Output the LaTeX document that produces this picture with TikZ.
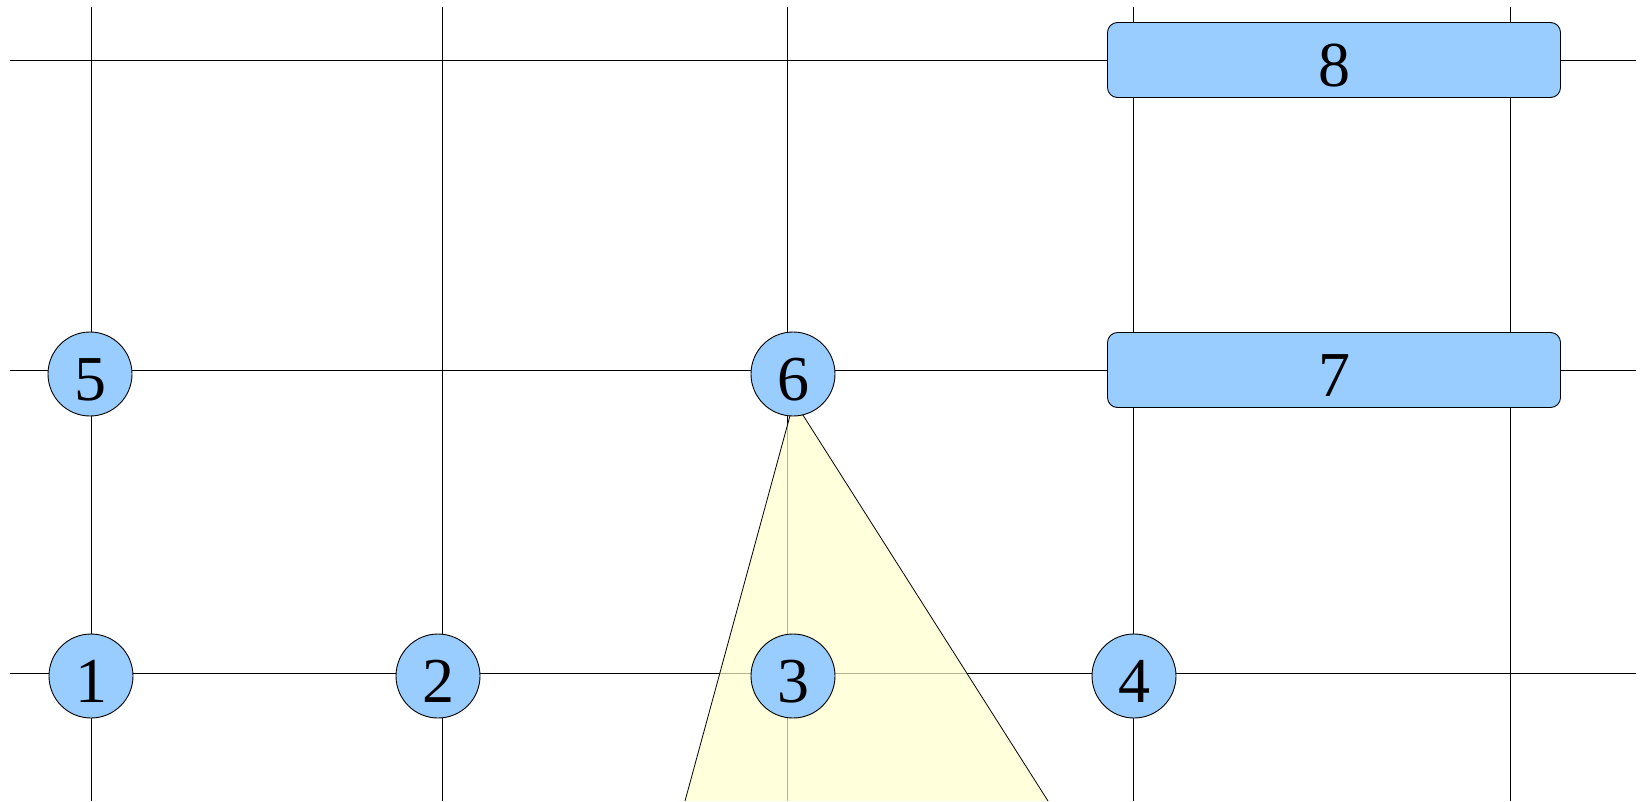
\documentclass[tikz,border=0pt]{standalone}
\usepackage{fontspec}
\setmainfont{Liberation Serif}
\definecolor{nodeblue}{HTML}{99CCFF}
\definecolor{paleyellow}{HTML}{FFFFCC}

\begin{document}
\begin{tikzpicture}[x=1pt, y=-1pt, line width=0.9pt,
  vertex/.style={circle, draw, fill=nodeblue, minimum size=84pt, inner sep=0pt,
    text height=52pt, text depth=0pt, font=\fontsize{64}{64}\selectfont},
  bar/.style={rectangle, rounded corners=10pt, draw, fill=nodeblue,
    minimum width=453pt, minimum height=75pt, inner sep=0pt,
    text height=52pt, text depth=0pt, font=\fontsize{64}{64}\selectfont}]
  \useasboundingbox (0,0) rectangle (1643,801);
  \clip (0,0) rectangle (1643,801);
  % grid lines
  \foreach \x in {91,442,787,1133,1510}
    \draw (\x,7) -- (\x,801);
  \foreach \y in {60,370,673}
    \draw (10,\y) -- (1636,\y);
  % light cone below node 6
  \coordinate (apex) at (794,401);
  \coordinate (conel) at (685,801);
  \coordinate (coner) at (1048,801);
  \fill[paleyellow, fill opacity=0.7] (apex) -- (conel) -- (coner) -- cycle;
  \draw[line width=0.8pt] (conel) -- (apex) -- (coner);
  % round nodes
  \node[vertex] (n1) at (91,676) {1};
  \node[vertex] (n2) at (438,676) {2};
  \node[vertex] (n3) at (793,676) {3};
  \node[vertex] (n4) at (1134,676) {4};
  \node[vertex] (n5) at (90,374) {5};
  \node[vertex] (n6) at (793,374) {6};
  % wide nodes
  \node[bar] (n7) at (1334,370) {7};
  \node[bar] (n8) at (1334,60) {8};
\end{tikzpicture}
\end{document}
